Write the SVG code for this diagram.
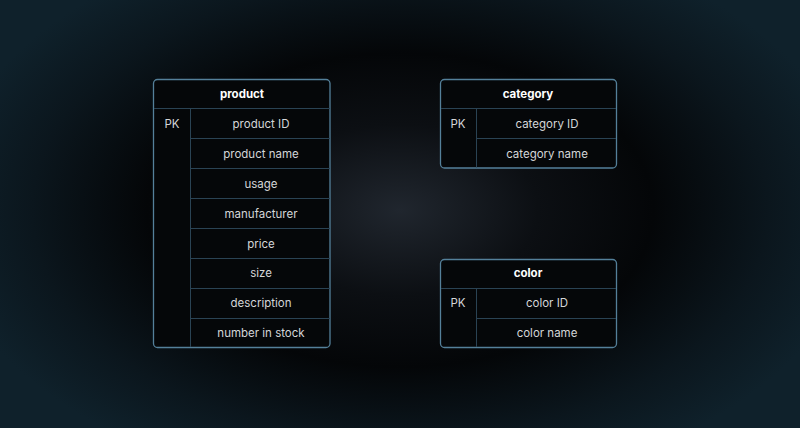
<svg xmlns="http://www.w3.org/2000/svg" width="800" height="428" viewBox="0 0 800 428">
<defs>
<radialGradient id="bg" cx="400" cy="210" r="460" gradientUnits="userSpaceOnUse" gradientTransform="translate(400 210) scale(1 0.62) translate(-400 -210)">
<stop offset="0" stop-color="#20262e"/>
<stop offset="0.3" stop-color="#0c0f13"/>
<stop offset="0.55" stop-color="#040608"/>
<stop offset="0.8" stop-color="#0b161d"/>
<stop offset="1" stop-color="#0f212b"/>
</radialGradient>
<style>
.box{fill:#050709;stroke:#54809a;stroke-width:1.3}
.ln{stroke:#2a4354;stroke-width:1;fill:none}
.hd{font-family:Inter,"Liberation Sans",sans-serif;font-size:11.5px;font-weight:700;fill:#ffffff;text-anchor:middle}
.tx{font-family:Inter,"Liberation Sans",sans-serif;font-size:11.5px;fill:#d4d6d8;text-anchor:middle}
.pk{font-family:Inter,"Liberation Sans",sans-serif;font-size:11.5px;fill:#d4d6d8;text-anchor:middle}
</style>
</defs>
<rect width="800" height="428" fill="url(#bg)"/>
<g id="product">
<rect class="box" x="153.5" y="79.5" width="176.5" height="268" rx="4"/>
<line class="ln" x1="154" y1="108.5" x2="330" y2="108.5"/>
<line class="ln" x1="190.5" y1="108.5" x2="190.5" y2="347"/>
<line class="ln" x1="190.5" y1="138.5" x2="330" y2="138.5"/>
<line class="ln" x1="190.5" y1="168.5" x2="330" y2="168.5"/>
<line class="ln" x1="190.5" y1="198.5" x2="330" y2="198.5"/>
<line class="ln" x1="190.5" y1="228.5" x2="330" y2="228.5"/>
<line class="ln" x1="190.5" y1="258.5" x2="330" y2="258.5"/>
<line class="ln" x1="190.5" y1="288.5" x2="330" y2="288.5"/>
<line class="ln" x1="190.5" y1="318.5" x2="330" y2="318.5"/>
<text class="hd" x="242" y="98">product</text>
<text class="pk" x="172" y="128">PK</text>
<text class="tx" x="261" y="128">product ID</text>
<text class="tx" x="261" y="158">product name</text>
<text class="tx" x="261" y="188">usage</text>
<text class="tx" x="261" y="218">manufacturer</text>
<text class="tx" x="261" y="248">price</text>
<text class="tx" x="261" y="277">size</text>
<text class="tx" x="261" y="307">description</text>
<text class="tx" x="261" y="337">number in stock</text>
</g>
<g id="category">
<rect class="box" x="440.5" y="79.5" width="176" height="88.5" rx="4"/>
<line class="ln" x1="441" y1="108.5" x2="616" y2="108.5"/>
<line class="ln" x1="476.5" y1="108.5" x2="476.5" y2="167.5"/>
<line class="ln" x1="476.5" y1="138.5" x2="616" y2="138.5"/>
<text class="hd" x="528" y="98">category</text>
<text class="pk" x="458" y="128">PK</text>
<text class="tx" x="547" y="128">category ID</text>
<text class="tx" x="547" y="158">category name</text>
</g>
<g id="color">
<rect class="box" x="440.5" y="259.5" width="176" height="88" rx="4"/>
<line class="ln" x1="441" y1="288.5" x2="616" y2="288.5"/>
<line class="ln" x1="476.5" y1="288.5" x2="476.5" y2="347"/>
<line class="ln" x1="476.5" y1="318.5" x2="616" y2="318.5"/>
<text class="hd" x="528" y="277">color</text>
<text class="pk" x="458" y="307">PK</text>
<text class="tx" x="547" y="307">color ID</text>
<text class="tx" x="547" y="337">color name</text>
</g>
<g id="connectors"/>
</svg>
